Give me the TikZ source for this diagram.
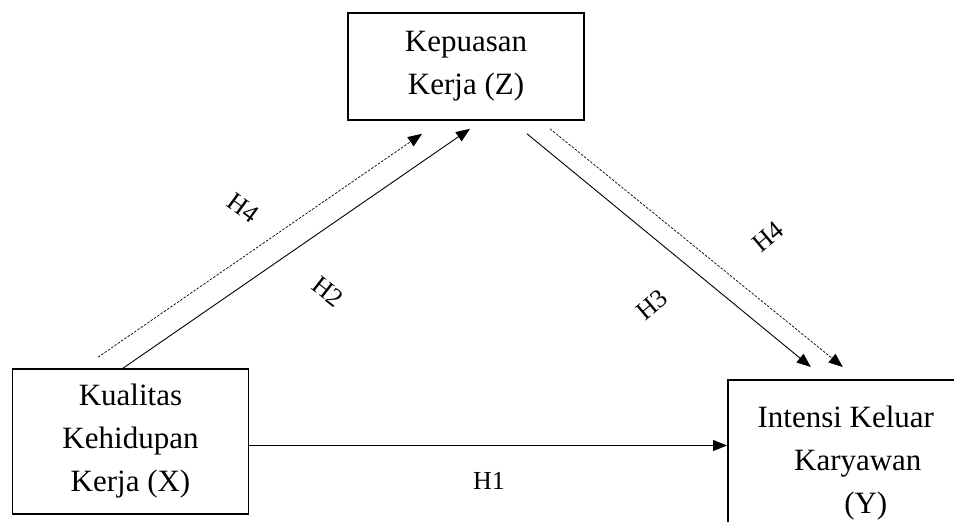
\documentclass[tikz,border=0pt]{standalone}
\usepackage{fontspec}
\setmainfont{Liberation Serif}
\usetikzlibrary{arrows.meta}

\begin{document}
\begin{tikzpicture}
 [
  x=1pt, y=1pt,
  >={Triangle[length=14pt,width=11pt]},
  var/.style   = {draw, line width=1.6pt, align=center, minimum width=236pt,
                  font=\fontsize{31}{43}\selectfont},
  path/.style  = {->, line width=0.9pt},
  ind/.style   = {->, line width=0.7pt, dash pattern=on 2.5pt off 1.5pt},
  hyp/.style   = {font=\fontsize{26}{30}\selectfont},
 ]
 \useasboundingbox (0,0) rectangle (954,522);

 % variables
 \node[var, minimum height=107pt] (Z) at (466,455.5) {Kepuasan\\Kerja (Z)};
 \node[var, minimum height=145pt] (X) at (130.5,80.5) {Kualitas\\Kehidupan\\Kerja (X)};
 \node[var, minimum height=166pt, anchor=north west] (Y) at (727,143)
  {Intensi Keluar\\\hspace*{24pt}Karyawan\\\hspace*{40pt}(Y)};

 % direct paths
 \draw[path] ([yshift=-4pt]X.east) -- ([yshift=-4pt]X.east -| Y.west);
 \draw[path] ([xshift=-7.5pt]X.north) -- ([xshift=4pt,yshift=-8pt]Z.south);
 \draw[path] ([xshift=61pt,yshift=-13pt]Z.south) -- ([xshift=-35pt,yshift=12pt]Y.north);

 % indirect path through Z
 \draw[ind] ([xshift=-32.5pt,yshift=11pt]X.north) -- ([xshift=-44pt,yshift=-13pt]Z.south);
 \draw[ind] ([xshift=84pt,yshift=-8pt]Z.south) -- ([xshift=-3pt,yshift=12pt]Y.north);

 % hypotheses
 \node[hyp] (h1) at (489,41) {H1};
 \node[hyp, rotate=-38] (h2) at (328,230) {H2};
 \node[hyp, rotate=40] (h3) at (652,217) {H3};
 \node[hyp, rotate=-36] (h4a) at (243,314) {H4};
 \node[hyp, rotate=40] (h4b) at (768,285) {H4};
\end{tikzpicture}
\end{document}
